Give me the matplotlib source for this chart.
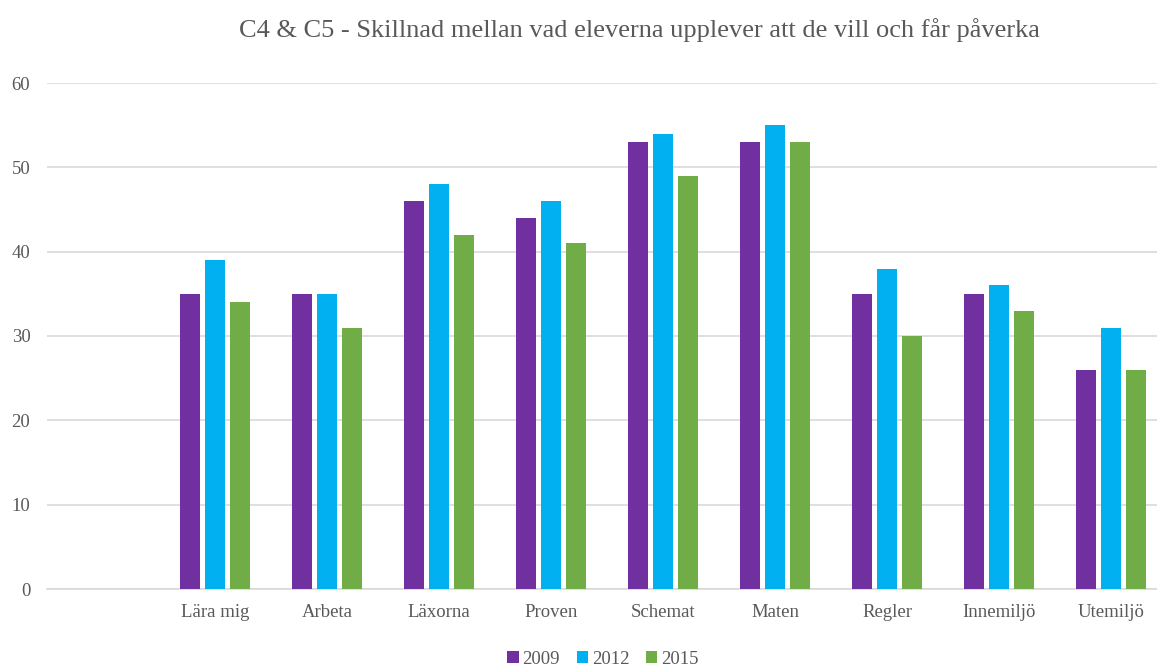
import matplotlib.pyplot as plt
import numpy as np

plt.rcParams['font.family'] = ['Liberation Serif', 'DejaVu Serif']

categories = ["", "Lära mig", "Arbeta", "Läxorna", "Proven", "Schemat",
              "Maten", "Regler", "Innemiljö", "Utemiljö"]
years = ["2009", "2012", "2015"]
v2009 = [np.nan, 35, 35, 46, 44, 53, 53, 35, 35, 26]
v2012 = [np.nan, 39, 35, 48, 46, 54, 55, 38, 36, 31]
v2015 = [np.nan, 34, 31, 42, 41, 49, 53, 30, 33, 26]
colors = ["#7030A0", "#00B0F0", "#70AD47"]

W, H = 1157, 668
fig = plt.figure(figsize=(W / 100, H / 100), dpi=100)
# axes runs a little past the right edge, as in the original (cropped) picture
ax = fig.add_axes([47 / W, (H - 589) / H, (1167 - 47) / W, (589 - 83) / H])

x = np.arange(len(categories))
bw = 20 / 112
off = 25 / 112
for i, (vals, c, lab) in enumerate(zip([v2009, v2012, v2015], colors, years)):
    ax.bar(x + (i - 1) * off, vals, width=bw, color=c, label=lab, zorder=3)

ax.set_xlim(-0.5, len(categories) - 0.5)
ax.set_ylim(0, 60)
ax.set_yticks(range(0, 61, 10))
ax.set_xticks(x)
ax.set_xticklabels(categories)
ax.yaxis.grid(True, color="#D9D9D9", linewidth=1.2, zorder=0)
ax.set_axisbelow(True)
for s in ["top", "right", "left"]:
    ax.spines[s].set_visible(False)
ax.spines["bottom"].set_color("#D9D9D9")
ax.spines["bottom"].set_linewidth(1.2)
ax.tick_params(axis="both", length=0, labelsize=13.5, colors="#595959")
ax.tick_params(axis="y", pad=12)
ax.tick_params(axis="x", pad=11)

fig.text(0.553, 1 - 30 / H, "C4 & C5 - Skillnad mellan vad eleverna upplever att de vill och får påverka",
         ha="center", va="center", fontsize=19, color="#595959")

leg = fig.legend(loc="center", bbox_to_anchor=(603 / W, 9 / H), ncol=3, frameon=False,
                 fontsize=13.5, handlelength=0.6, handleheight=0.6, handletextpad=0.2,
                 columnspacing=0.9)
for t in leg.get_texts():
    t.set_color("#595959")

fig.savefig("out.png", dpi=100)
